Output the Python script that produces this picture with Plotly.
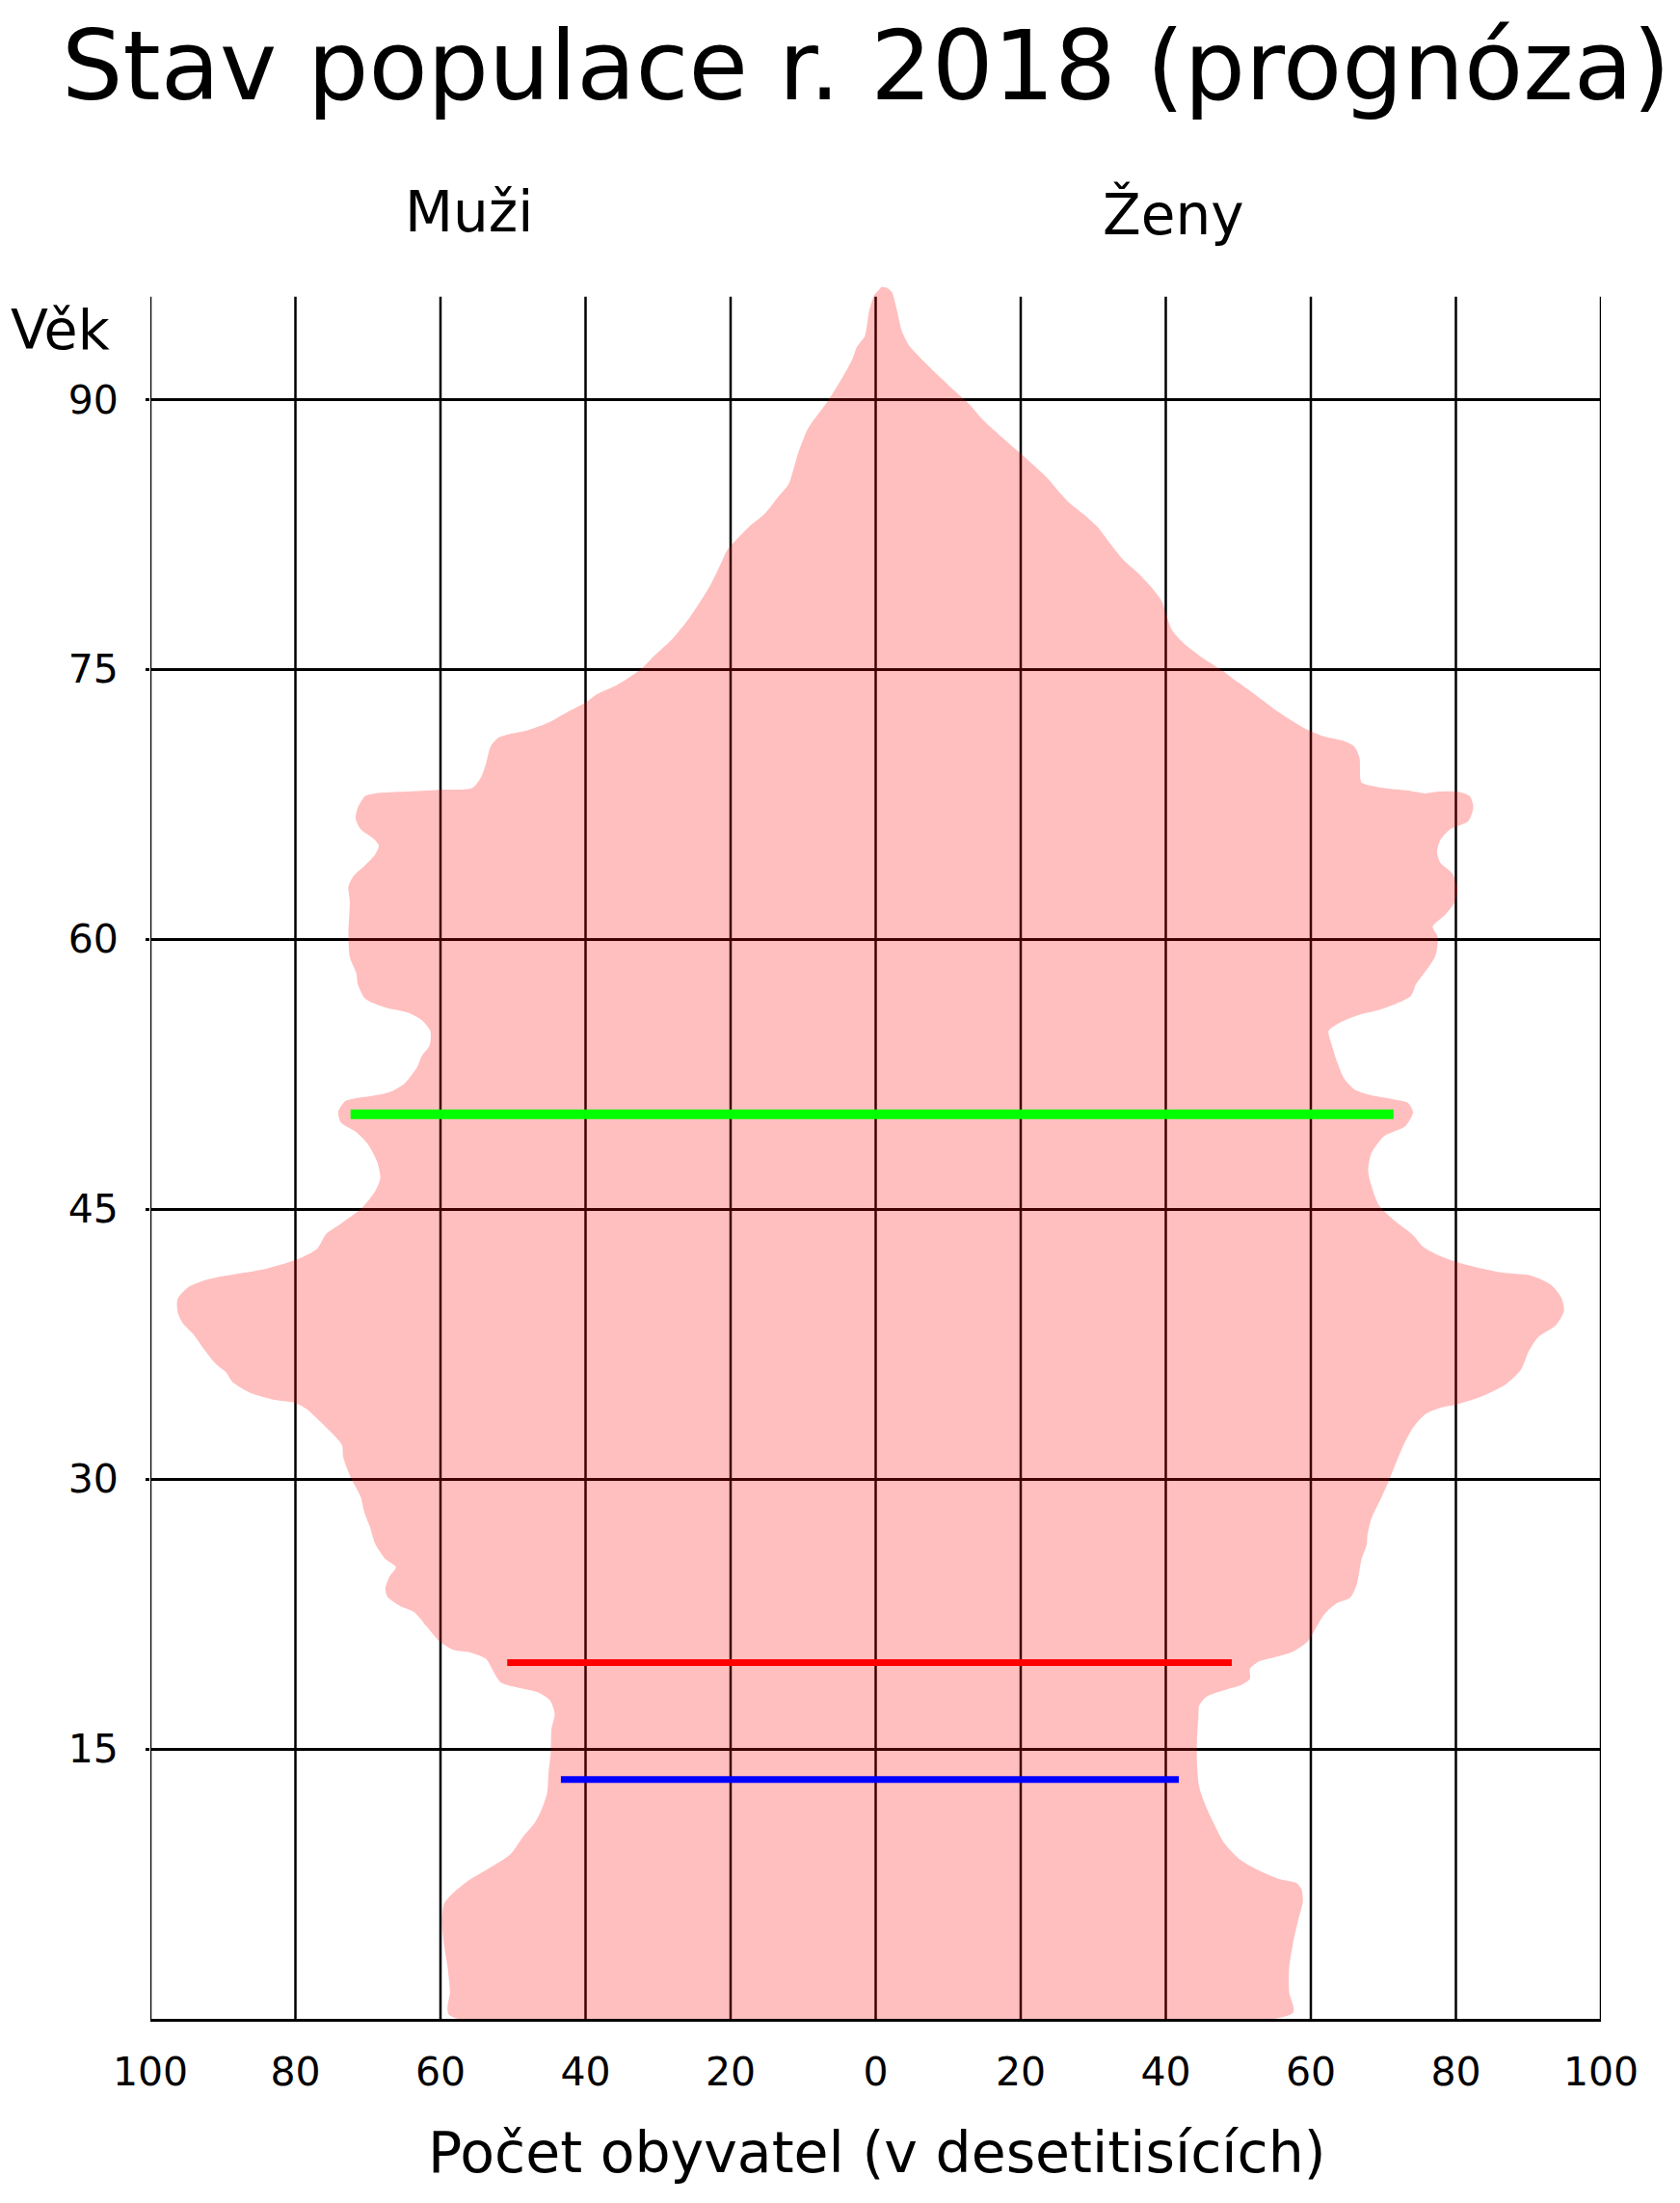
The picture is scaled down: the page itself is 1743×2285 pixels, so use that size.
import plotly.graph_objects as go

# ---- data ----
# male contour, from the top of the pyramid down to age 0 (population in tens of thousands)
muzi_vek = [95.8, 95.0, 94.1, 93.5, 92.9, 92.25, 91.2, 89.9, 88.4, 87.0, 85.3, 84.6, 83.6, 82.9,
            81.6, 81.0, 79.6, 77.9, 76.7, 75.8, 75.0, 74.1, 73.6, 73.2, 72.6, 72.0, 71.6, 71.4,
            71.2, 70.7, 69.8, 69.0, 68.4, 68.3, 68.2, 68.1, 67.95, 67.3, 66.7, 66.1, 65.6, 65.2,
            64.7, 64.1, 63.5, 62.9, 62.1, 60.3, 59.0, 58.1, 57.5, 56.7, 56.2, 55.9, 55.5, 54.9,
            54.1, 53.5, 52.9, 52.0, 51.5, 51.3, 51.2, 51.0, 50.4, 49.8, 49.3, 48.6, 47.6, 46.7,
            46.0, 45.0, 44.2, 43.6, 42.8, 42.2, 41.7, 41.4, 41.1, 40.65, 40.0, 39.3, 38.7, 38.05,
            37.1, 36.4, 35.9, 35.4, 34.8, 34.4, 34.25, 33.9, 33.0, 31.9, 31.2, 30.1, 29.0, 28.15,
            27.3, 26.4, 25.55, 25.1, 24.6, 23.9, 23.45, 22.95, 22.6, 21.8, 21.0, 20.5, 20.35,
            20.0, 19.3, 18.7, 18.4, 18.15, 17.7, 16.95, 16.1, 14.8, 13.7, 12.55, 11.6, 10.9,
            10.1, 9.15, 8.35, 7.7, 6.9, 6.4, 5.4, 4.1, 2.8, 1.5, 0.22]
muzi_pocet = [0.2, 0.85, 1.2, 1.5, 2.6, 3.2, 4.6, 6.6, 9.3, 10.7, 12.0, 13.4, 15.4, 17.5,
              20.5, 21.2, 22.9, 25.6, 28.0, 30.4, 32.4, 35.8, 38.5, 39.8, 42.6, 45.3, 48.0, 50.4,
              52.0, 53.1, 53.7, 54.4, 55.6, 60.2, 64.9, 69.0, 70.4, 71.4, 71.7, 71.0, 69.3, 68.5,
              69.0, 70.4, 72.0, 72.7, 72.5, 72.7, 72.5, 71.6, 71.4, 70.4, 67.6, 64.3, 62.6, 61.4,
              61.5, 62.6, 63.2, 64.9, 67.0, 69.3, 71.0, 73.1, 74.1, 73.7, 71.7, 70.0, 68.7, 68.3,
              69.0, 71.0, 73.7, 75.8, 77.0, 79.8, 83.9, 88.0, 92.0, 94.8, 96.25, 96.25, 95.6, 94.1,
              92.4, 91.0, 89.5, 88.7, 86.3, 82.9, 80.2, 78.5, 76.1, 73.6, 73.4, 72.4, 71.0, 70.5,
              69.7, 69.0, 67.6, 66.15, 67.0, 67.6, 67.3, 65.6, 63.6, 61.9, 60.2, 58.2, 55.8,
              53.7, 52.7, 51.7, 49.3, 46.6, 44.9, 44.25, 44.7, 44.8, 45.1, 45.3, 46.1, 47.0,
              48.65, 50.35, 53.4, 56.1, 58.5, 59.5, 59.8, 59.5, 59.0, 58.7, 58.8]

# female contour, from age 0 up to the top of the pyramid
zeny_vek = [0.32, 1.5, 2.8, 4.1, 5.4, 6.55, 7.2, 7.55, 7.75, 8.2, 8.8, 9.8, 10.8, 11.75, 12.9,
            14.2, 15.5, 16.8, 17.4, 17.9, 18.3, 18.55, 18.9, 19.45, 19.85, 20.1, 20.4, 20.95,
            21.65, 22.5, 23.1, 23.4, 24.1, 25.55, 26.35, 26.85, 27.8, 28.95, 29.75, 30.25, 31.9,
            32.85, 33.6, 33.95, 34.15, 34.6, 35.3, 36.1, 37.1, 37.9, 38.55, 39.35, 40.1, 40.8,
            41.3, 41.45, 41.7, 42.05, 42.45, 42.9, 43.55, 44.4, 45.2, 46.3, 47.15, 48.1, 49.05,
            49.6, 50.36, 50.9, 51.1, 51.35, 51.65, 52.25, 53.2, 54.1, 54.9, 55.35, 55.8, 56.15,
            56.85, 57.5, 58.4, 59.1, 60.1, 60.7, 61.35, 62.1, 62.85, 63.65, 64.25, 64.85, 65.5,
            66.1, 66.55, 67.35, 67.95, 68.2, 68.2, 68.1, 68.25, 68.4, 68.7, 69.0, 70.1, 70.7,
            71.0, 71.25, 71.7, 72.55, 73.35, 74.25, 74.95, 75.65, 76.4, 77.15, 78.1, 78.75,
            79.65, 80.35, 81.1, 82.1, 82.85, 83.6, 84.25, 84.85, 85.65, 86.55, 87.5, 88.85,
            89.65, 90.4, 91.3, 92.25, 93.0, 93.8, 95.0, 95.95, 96.2, 96.25]
zeny_pocet = [57.5, 57.0, 57.0, 57.5, 58.2, 58.9, 58.7, 58.0, 55.8, 53.1, 50.4, 48.0, 46.7, 45.6,
              44.6, 44.3, 44.3, 44.5, 44.6, 45.6, 48.35, 50.4, 51.6, 51.6, 52.8, 55.1, 57.5, 59.5,
              60.6, 61.9, 63.6, 65.4, 66.3, 67.0, 67.7, 67.8, 68.35, 69.7, 70.6, 71.1, 72.8,
              74.1, 75.8, 77.85, 80.2, 83.6, 87.0, 89.0, 90.05, 91.4, 93.8, 94.9, 94.5, 93.1,
              90.4, 86.7, 83.6, 80.2, 77.5, 75.5, 74.1, 71.4, 69.4, 68.35, 67.9, 68.35, 70.1,
              73.0, 74.1, 73.4, 71.4, 68.0, 66.0, 64.6, 63.6, 62.9, 62.45, 63.95, 66.7, 70.05,
              73.8, 74.5, 76.15, 77.2, 77.5, 76.8, 78.5, 79.9, 80.2, 79.5, 77.85, 77.4, 77.85,
              79.2, 81.7, 82.4, 81.9, 80.2, 77.5, 75.8, 73.4, 70.05, 67.0, 66.8, 66.7, 66.0,
              64.6, 61.9, 59.2, 55.8, 53.1, 50.05, 47.7, 45.0, 42.6, 40.9, 40.0, 39.5,
              37.8, 36.15, 34.1, 32.1, 30.7, 28.7, 26.7, 25.3, 23.6, 21.2, 18.5, 14.8,
              13.1, 11.1, 8.7, 6.3, 4.6, 3.6, 2.9, 2.25, 1.55, 0.8]

# horizontal marker lines
znacky_vek = [50.27, 19.8, 13.3]
znacky_muzi = [72.4, 50.8, 43.4]
znacky_zeny = [71.4, 49.1, 41.8]
znacky_barvy = ["#00ff00", "#ff0000", "#0000ff"]
znacky_sirky = [10, 7, 7]

x_ticks = [-100, -80, -60, -40, -20, 0, 20, 40, 60, 80, 100]
x_tick_text = ["100", "80", "60", "40", "20", "0", "20", "40", "60", "80", "100"]
y_ticks = [15, 30, 45, 60, 75, 90]
grid_top = 95.7

FONT = "DejaVu Sans"

# ---- figure ----
fig = go.Figure()

# pyramid outline (closed shape)
xs = [-v for v in muzi_pocet] + zeny_pocet
ys = muzi_vek + zeny_vek
fig.add_trace(go.Scatter(
    x=xs, y=ys, mode="lines", fill="toself",
    fillcolor="rgba(255,0,0,0.25)",
    line=dict(width=0, shape="spline", smoothing=0.7, color="rgba(255,0,0,0)"),
    hoverinfo="skip", showlegend=False,
))

for age, lm, rz, col, w in zip(znacky_vek, znacky_muzi, znacky_zeny, znacky_barvy, znacky_sirky):
    fig.add_trace(go.Scatter(
        x=[-lm, rz], y=[age, age], mode="lines",
        line=dict(color=col, width=w), hoverinfo="skip", showlegend=False,
    ))

# vertical grid lines (stop slightly below the top of the plot area)
for xv in x_ticks:
    fig.add_shape(type="line", xref="x", yref="y", x0=xv, x1=xv, y0=0, y1=grid_top,
                  line=dict(color="black", width=2.5), layer="below")

BODY = 8  # default page margin of the html body
W, H = 1743 - BODY, 2285 - BODY
ML, MR, MT, MB = 148, 82, 282, 191
PW, PH = W - ML - MR, H - MT - MB
px_per_year = 18.665
y_top = PH / px_per_year


def pxx(X):
    return (X - BODY - ML) / PW


def pxy(Y):
    return (H - MB - (Y - BODY)) / PH


annotations = [
    dict(text="Stav populace r. 2018 (prognóza)", x=pxx(898), y=(H - MB) / PH,
         yanchor="top", font=dict(size=100)),
    dict(text="Muži", x=pxx(486), y=pxy(220), font=dict(size=58)),
    dict(text="Ženy", x=pxx(1217), y=pxy(222), font=dict(size=58)),
    dict(text="Věk", x=pxx(62), y=pxy(342), font=dict(size=57)),
    dict(text="Počet obyvatel (v desetitisících)", x=pxx(910), y=pxy(2233), font=dict(size=58.5)),
]
for a in annotations:
    a.setdefault("yanchor", "middle")
    a.update(xref="paper", yref="paper", xanchor="center", showarrow=False)
    a["font"].update(family=FONT, color="black")

fig.update_layout(
    width=W, height=H,
    margin=dict(l=ML, r=MR, t=MT, b=MB, pad=0),
    paper_bgcolor="white", plot_bgcolor="white",
    font=dict(family=FONT, color="black"),
    annotations=annotations,
    showlegend=False,
    xaxis=dict(
        range=[-100, 100], showgrid=False, zeroline=False,
        tickmode="array", tickvals=x_ticks, ticktext=x_tick_text,
        tickfont=dict(size=41, family=FONT, color="black"),
        ticks="", ticklabelstandoff=17,
        showline=True, linecolor="black", linewidth=3,
        fixedrange=True,
    ),
    yaxis=dict(
        range=[0, y_top], showgrid=True, gridcolor="black", gridwidth=2.5,
        zeroline=False, tickmode="array", tickvals=y_ticks,
        tickfont=dict(size=41, family=FONT, color="black"),
        ticks="outside", ticklen=4, tickwidth=2.5, tickcolor="black",
        ticklabelstandoff=20, showline=False, fixedrange=True,
    ),
)

fig.write_html("out.html")
